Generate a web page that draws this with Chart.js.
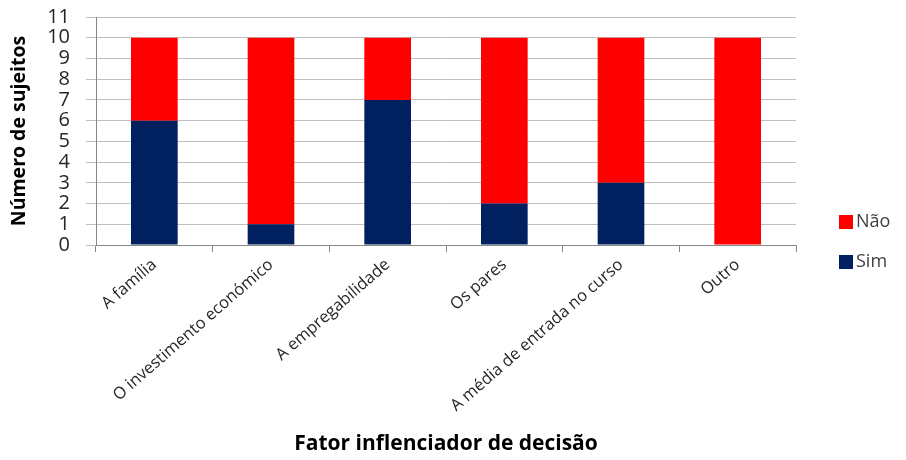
<!DOCTYPE html>
<html>
<head>
<meta charset="utf-8">
<script src="https://cdn.jsdelivr.net/npm/chart.js@4.4.1/dist/chart.umd.min.js"></script>
<style>
  html, body { margin: 0; padding: 0; background: #fff; }
  #wrap { width: 906px; height: 460px; }
</style>
</head>
<body>
<div id="wrap"><canvas id="chart"></canvas></div>
<script>
const categories = [
  "A família",
  "O investimento económico",
  "A empregabilidade",
  "Os pares",
  "A média de entrada no curso",
  "Outro"
];
const simValues = [6, 1, 7, 2, 3, 0];
const naoValues = [4, 9, 3, 8, 7, 10];
const yMax = 11;

const FONT = "'Open Sans', sans-serif";

// legend on the right, last series on top
const sideLegend = {
  id: "sideLegend",
  afterDraw(chart) {
    const ctx = chart.ctx;
    const sets = chart.data.datasets.slice().reverse();
    ctx.save();
    ctx.font = "18px " + FONT;
    ctx.textBaseline = "middle";
    sets.forEach((ds, i) => {
      const y = 222 + i * 40;
      ctx.fillStyle = ds.backgroundColor;
      ctx.fillRect(839, y - 7, 14, 14);
      ctx.fillStyle = "#404040";
      ctx.fillText(ds.label, 856, y);
    });
    ctx.restore();
  }
};

new Chart(document.getElementById("chart"), {
  type: "bar",
  data: {
    labels: categories,
    datasets: [
      { label: "Sim", data: simValues, backgroundColor: "#002060" },
      { label: "Não", data: naoValues, backgroundColor: "#ff0000" }
    ]
  },
  options: {
    responsive: true,
    maintainAspectRatio: false,
    animation: false,
    datasets: { bar: { categoryPercentage: 1, barPercentage: 0.4 } },
    layout: { padding: { left: 0, right: 110, top: 17, bottom: 3 } },
    plugins: {
      legend: { display: false },
      tooltip: { enabled: false }
    },
    scales: {
      x: {
        stacked: true,
        afterFit(scale) { scale.height = 212; },
        grid: {
          offset: true,
          drawOnChartArea: false,
          tickLength: 7,
          color: "#868686"
        },
        border: { color: "#868686" },
        ticks: {
          autoSkip: false,
          minRotation: 41,
          maxRotation: 41,
          color: "#262626",
          font: { family: FONT, size: 16.5 }
        },
        title: {
          display: true,
          text: "Fator inflenciador de decisão",
          color: "#000",
          font: { family: FONT, size: 21, weight: "bold" },
          padding: { top: 0, bottom: 0 }
        }
      },
      y: {
        stacked: true,
        min: 0,
        max: yMax,
        afterFit(scale) {
          scale.width = 96;
          scale.paddingTop = 0;
          scale.paddingBottom = 0;
        },
        grid: { color: "#bfbfbf", tickLength: 10 },
        border: { color: "#868686" },
        ticks: {
          autoSkip: false,
          stepSize: 1,
          padding: 16,
          color: "#262626",
          font: { family: FONT, size: 20 }
        },
        title: {
          display: true,
          text: "Número de sujeitos",
          color: "#000",
          font: { family: FONT, size: 19.5, weight: "bold" },
          padding: { top: 8, bottom: 0 }
        }
      }
    }
  },
  plugins: [sideLegend]
});
</script>
</body>
</html>
